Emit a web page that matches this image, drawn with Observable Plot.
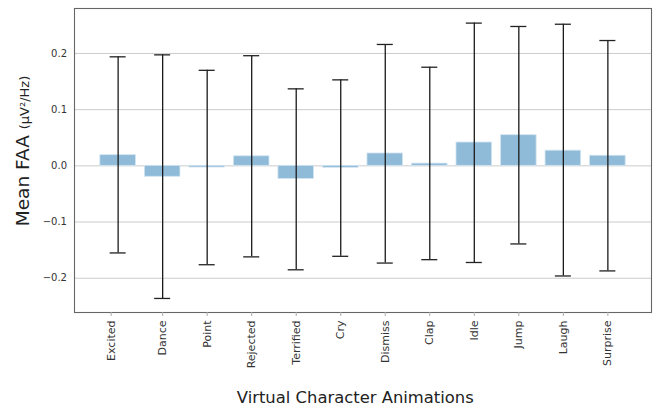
<!DOCTYPE html>
<html>
<head>
<meta charset="utf-8">
<script src="https://cdn.jsdelivr.net/npm/d3@7"></script>
<script src="https://cdn.jsdelivr.net/npm/@observablehq/plot@0.6"></script>
<style>
  html, body { margin: 0; padding: 0; background: white; overflow: hidden; }
  #chart svg { display: block; max-width: none !important; }
</style>
</head>
<body>
<div id="chart"></div>
<script>
const names = ["Excited","Dance","Point","Rejected","Terrified","Cry","Dismiss","Clap","Idle","Jump","Laugh","Surprise"];
const means = [0.019, -0.0195, -0.003, 0.017, -0.0235, -0.0035, 0.022, 0.004, 0.0415, 0.0545, 0.027, 0.018];
const upper = [0.194, 0.1975, 0.170, 0.196, 0.137, 0.153, 0.216, 0.1755, 0.254, 0.248, 0.252, 0.223];
const lower = [-0.155, -0.236, -0.176, -0.162, -0.185, -0.161, -0.173, -0.167, -0.172, -0.139, -0.196, -0.187];
const yTicks = [-0.2, -0.1, 0.0, 0.1, 0.2];
const xLabel = "Virtual Character Animations";
const yLabelMain = "Mean FAA ";
const yLabelUnit = "(µV²/Hz)";

const data = names.map((n, i) => ({name: n, mean: means[i], hi: upper[i], lo: lower[i]}));

const fmt = d3.format(".1f");
const font = "DejaVu Sans, sans-serif";

const chart = Plot.plot({
  width: 655,
  height: 407,
  marginLeft: 74,
  marginRight: 4,
  marginTop: 8,
  marginBottom: 95,
  style: {fontFamily: font, fontSize: "10px", color: "#333", background: "white"},
  x: {type: "band", domain: names, paddingInner: 0.2, paddingOuter: 0.58, round: false, label: null},
  y: {domain: [-0.261, 0.28], label: null},
  marks: [
    Plot.gridY(yTicks, {stroke: "#cccccc", strokeOpacity: 1, strokeWidth: 1}),
    Plot.barY(data, {x: "name", y: "mean", fill: "#8fbbd9", stroke: "#d4e5f1", strokeWidth: 0.8}),
    Plot.ruleX(data, {x: "name", y1: "lo", y2: "hi", stroke: "#1a1a1a", strokeWidth: 1.3}),
    Plot.tickY(data, {x: "name", y: "hi", stroke: "#222", strokeWidth: 1.3, insetLeft: 9.8, insetRight: 9.8}),
    Plot.tickY(data, {x: "name", y: "lo", stroke: "#222", strokeWidth: 1.3, insetLeft: 9.8, insetRight: 9.8}),
    Plot.frame({stroke: "#666", strokeWidth: 1.1}),
    Plot.axisY(yTicks, {tickSize: 0, tickPadding: 7.5, tickFormat: fmt, fontSize: 10, fill: "#333", label: null}),
    Plot.axisX(names.slice(0, 1), {dx: -7, tickSize: 4, tickPadding: 4, tickRotate: -90, fontSize: 11, fill: "#333", stroke: "#aaa", label: null}),
    Plot.axisX(names.slice(1), {tickSize: 4, tickPadding: 4, tickRotate: -90, fontSize: 11, fill: "#333", stroke: "#aaa", label: null})
  ]
});

const svg = d3.select(chart);
svg.append("text")
  .attr("x", 355.3)
  .attr("y", 403)
  .attr("text-anchor", "middle")
  .attr("font-family", font)
  .attr("font-size", 16.4)
  .attr("fill", "#222")
  .text(xLabel);

const yl = svg.append("text")
  .attr("transform", "translate(28.5,151) rotate(-90)")
  .attr("text-anchor", "middle")
  .attr("font-family", font)
  .attr("fill", "#222");
yl.append("tspan").attr("font-size", 18.5).text(yLabelMain);
yl.append("tspan").attr("font-size", 13).text(yLabelUnit);

document.getElementById("chart").appendChild(chart);
</script>
</body>
</html>
